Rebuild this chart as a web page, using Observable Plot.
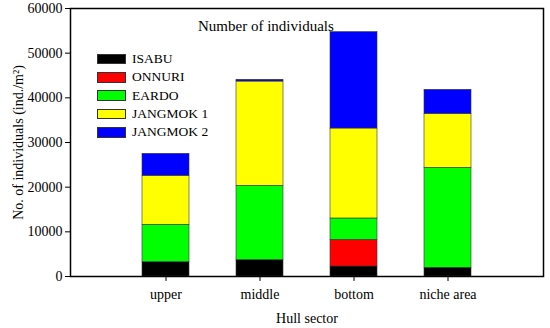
<!DOCTYPE html>
<html>
<head>
<meta charset="utf-8">
<script src="https://cdn.jsdelivr.net/npm/d3@7"></script>
<script src="https://cdn.jsdelivr.net/npm/@observablehq/plot@0.6"></script>
<style>
  body { margin: 0; background: #fff; }
  #wrap { position: relative; width: 550px; height: 328px; font-family: "Liberation Serif", serif; }
  #legend { position: absolute; left: 97px; top: 50px; font-size: 13.5px; color: #000; }
  .item { display: flex; align-items: center; height: 18.3px; }
  .sw { width: 27px; height: 8.5px; border: 0.6px solid #333; margin-right: 6px; }
  #title { position: absolute; left: 198px; top: 18px; font-size: 15px; }
</style>
</head>
<body>
<div id="wrap"></div>
<script>
const sectors = ["upper", "middle", "bottom", "niche area"];
const series = ["ISABU", "ONNURI", "EARDO", "JANGMOK 1", "JANGMOK 2"];
const colors = ["#000000", "#ff0000", "#00ff00", "#ffff00", "#0000ff"];
const ISABU = [3200, 3650, 2240, 1940];
const ONNURI = [0, 0, 5960, 0];
const EARDO = [8370, 16650, 4790, 22390];
const JANGMOK1 = [10980, 23350, 20140, 12090];
const JANGMOK2 = [4910, 380, 21570, 5370];
const yTicks = [0, 10000, 20000, 30000, 40000, 50000, 60000];
const titleText = "Number of individuals";

const valuesBySeries = [ISABU, ONNURI, EARDO, JANGMOK1, JANGMOK2];
const table = [];
series.forEach((s, i) => sectors.forEach((sec, j) => table.push({sector: sec, series: s, value: valuesBySeries[i][j]})));

const chart = Plot.plot({
  width: 550,
  height: 328,
  marginLeft: 70,
  marginRight: 7,
  marginTop: 8,
  marginBottom: 52,
  style: {fontFamily: "Liberation Serif, serif", fontSize: "14px", color: "#000", background: "#fff"},
  x: {domain: sectors, paddingInner: 0.5, paddingOuter: 0.76},
  y: {domain: [0, 60000]},
  color: {domain: series, range: colors},
  marks: [
    Plot.barY(table, {x: "sector", y: "value", fill: "series", stroke: "#333", strokeWidth: 0.6, order: series}),
    Plot.frame({stroke: "#000", strokeWidth: 1.5}),
    Plot.axisY({ticks: yTicks, tickFormat: d => String(d), tickSize: 5, tickPadding: 3, label: "No. of individuals (ind./m²)", labelAnchor: "center", labelArrow: "none", labelOffset: 57}),
    Plot.axisX({tickSize: 5, tickPadding: 8, label: "Hull sector", labelAnchor: "center", labelArrow: "none", labelOffset: 46})
  ]
});

const wrap = document.getElementById("wrap");
wrap.appendChild(chart);
const title = document.createElement("div");
title.id = "title";
title.textContent = titleText;
wrap.appendChild(title);
const legend = document.createElement("div");
legend.id = "legend";
series.forEach((s, i) => {
  const it = document.createElement("div");
  it.className = "item";
  const sw = document.createElement("div");
  sw.className = "sw";
  sw.style.background = colors[i];
  const lb = document.createElement("span");
  lb.textContent = s;
  it.appendChild(sw); it.appendChild(lb);
  legend.appendChild(it);
});
wrap.appendChild(legend);
</script>
</body>
</html>
